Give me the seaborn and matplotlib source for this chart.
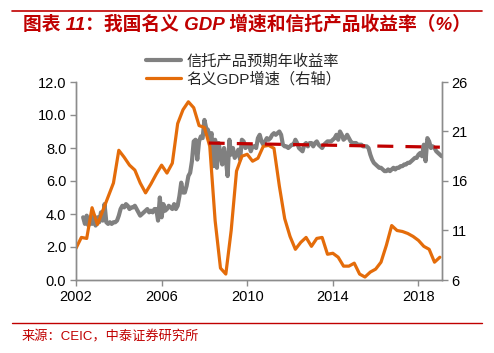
import numpy as np
import pandas as pd
import matplotlib
matplotlib.use('Agg')
import matplotlib.pyplot as plt
import seaborn as sns

# 名义GDP增速（季度，右轴）
gdp_start = 2002.0
gdp = [9.2, 10.3, 10.2, 13.3, 11.6, 13.0, 14.4, 15.8, 19.1, 18.4, 17.6, 17.1,
       15.8, 14.8, 15.7, 16.7, 17.6, 16.8, 17.8, 21.8, 23.2, 24.0, 23.4, 21.6,
       21.4, 19.5, 12.0, 7.2, 6.6, 11.0, 17.0, 18.5, 18.7, 18.0, 18.3, 19.5,
       19.6, 19.3, 15.5, 12.2, 10.4, 9.1, 9.8, 10.3, 9.4, 10.2, 10.3, 8.6,
       8.7, 8.3, 7.4, 7.4, 7.7, 6.6, 6.3, 6.8, 7.1, 7.8, 9.5, 11.5,
       11.0, 10.9, 10.7, 10.4, 10.0, 9.4, 9.1, 7.8, 8.3]

# 信托产品预期年收益率（月度，左轴），2002年5月起
trust_start = 2002 + 4 / 12
trust = [3.8, 3.4, 3.9, 3.3, 3.8, 3.4, 3.9, 3.3,
         3.8, 3.5, 4.1, 3.6, 4.6, 3.5, 3.4, 3.5, 3.4, 3.5, 3.5, 3.6,
         3.9, 4.3, 4.5, 4.4, 4.6, 4.5, 4.3, 4.4, 4.4, 4.5, 4.3, 4.1,
         3.9, 4.0, 4.1, 4.2, 4.3, 4.1, 4.2, 4.1, 4.3, 4.3, 3.6, 5.0,
         3.8, 4.6, 4.2, 4.3, 4.5, 4.4, 4.3, 4.6, 4.3, 4.5, 5.1, 5.9,
         5.3, 5.3, 5.7, 6.3, 6.5, 7.2, 8.4, 8.5, 7.3, 8.4, 8.7, 8.6,
         9.7, 9.2, 9.1, 8.5, 8.9, 6.9, 8.5, 6.8, 8.3, 7.6, 7.0, 8.0,
         7.3, 6.3, 8.5, 7.6, 8.0, 7.4, 7.6, 7.9, 7.3, 8.5, 8.4, 8.0,
         8.1, 8.2, 7.8, 8.1, 8.1, 8.0, 8.6, 8.8, 8.4, 8.2, 8.4, 8.6,
         8.5, 8.6, 8.8, 8.9, 8.8, 8.9, 9.0, 8.8, 8.2, 8.1, 8.1, 8.0,
         8.1, 8.2, 8.2, 8.5, 8.3, 8.0, 7.9, 7.8, 8.2, 8.3, 8.1, 8.3,
         8.3, 8.1, 8.3, 8.4, 8.2, 8.1, 8.0, 8.2, 8.3, 8.4, 8.4, 8.4,
         8.5, 8.6, 8.8, 8.5, 9.0, 8.8, 8.5, 8.6, 8.8, 8.6, 8.4, 8.3,
         8.3, 8.3, 8.2, 8.2, 8.2, 8.1, 8.1, 8.1, 8.0, 7.6, 7.3, 7.1,
         7.0, 6.9, 6.8, 6.8, 6.7, 6.6, 6.6, 6.7, 6.6, 6.7, 6.8, 6.7,
         6.8, 6.8, 6.9, 6.9, 7.0, 7.0, 7.1, 7.1, 7.2, 7.3, 7.4, 7.4,
         7.6, 7.7, 7.5, 8.2, 7.2, 8.6, 8.4, 8.0, 8.1, 8.0, 7.8, 7.7,
         7.6, 7.5]

# 趋势虚线（左轴）
trend_x = [2008.2, 2019.0]
trend_y = [8.3, 8.05]

x_ticks = [2002, 2006, 2010, 2014, 2018]
left_ticks = [0, 2, 4, 6, 8, 10, 12]
right_ticks = [6, 11, 16, 21, 26]

df_gdp = pd.DataFrame({'t': gdp_start + np.arange(len(gdp)) * 0.25, 'v': gdp})
df_trust = pd.DataFrame({'t': trust_start + np.arange(len(trust)) / 12, 'v': trust})
df_trend = pd.DataFrame({'t': trend_x, 'v': trend_y})

sns.set_style('white')
plt.rcParams['font.family'] = ['Liberation Sans', 'Noto Sans CJK SC', 'DejaVu Sans']

red = '#C00000'
spine_c = '#8C8C8C'

fig = plt.figure(figsize=(4.94, 3.53), dpi=100)
ax = fig.add_axes([76 / 494, 1 - 280 / 353, 366 / 494, 198 / 353])
ax2 = ax.twinx()

sns.lineplot(data=df_trust, x='t', y='v', ax=ax, color='#808080', linewidth=3.0,
             label='信托产品预期年收益率', legend=False)
sns.lineplot(data=df_gdp, x='t', y='v', ax=ax2, color='#E46C0A', linewidth=2.3,
             label='名义GDP增速（右轴）', legend=False)
# 虚线画在右轴上层，但用左轴坐标
ln = ax2.plot(df_trend['t'], df_trend['v'], transform=ax.transData,
              color=red, linewidth=2.3)[0]
ln.set_dashes((5.0, 3.8))

ax.set_xlim(2002, 2019.1)
ax.set_ylim(0, 12)
ax2.set_ylim(6, 26)
ax.set_xticks(x_ticks)
ax.set_xticklabels([str(v) for v in x_ticks])
ax.set_yticks(left_ticks)
ax.set_yticklabels([f'{v:.1f}' for v in left_ticks])
ax2.set_yticks(right_ticks)
ax2.set_yticklabels([str(v) for v in right_ticks])
ax.set_xlabel('')
ax.set_ylabel('')
ax2.set_ylabel('')

for a in (ax, ax2):
    for s in a.spines.values():
        s.set_color(spine_c)
        s.set_linewidth(1.0)
    a.spines['top'].set_visible(False)
    a.tick_params(labelsize=10.5, colors='black', length=4, width=1.0,
                  color=spine_c, pad=3)
ax.tick_params(axis='x', bottom=True, direction='out')
ax.tick_params(axis='y', left=True, direction='out')
ax2.tick_params(axis='y', right=True, direction='out')

h1, l1 = ax.get_legend_handles_labels()
h2, l2 = ax2.get_legend_handles_labels()
fig.legend(h1 + h2, l1 + l2, loc='upper left', bbox_to_anchor=(146 / 494, 1 - 54 / 353),
           frameon=False, fontsize=11, handlelength=2.3, handletextpad=0.35,
           labelspacing=0.2, borderpad=0, borderaxespad=0)

# 标题与来源
fig.add_artist(plt.Line2D([12 / 494, 482 / 494], [1 - 11 / 353, 1 - 11 / 353],
                          color=red, linewidth=1.2))
fig.text(23 / 494, 1 - 24 / 353, '图表 11：我国名义 GDP 增速和信托产品收益率（%）',
         color=red, fontsize=13.5, fontweight='bold', fontstyle='italic',
         va='center', ha='left')
fig.add_artist(plt.Line2D([12 / 494, 482 / 494], [1 - 323 / 353, 1 - 323 / 353],
                          color=red, linewidth=1.0))
fig.text(22 / 494, 1 - 337 / 353, '来源：CEIC，中泰证券研究所', color=red,
         fontsize=9.5, va='center', ha='left')

fig.savefig('out.png', dpi=100)
